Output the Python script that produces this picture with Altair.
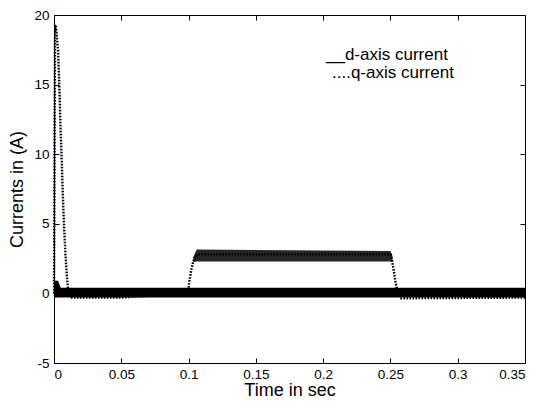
import altair as alt
import pandas as pd

# q-axis current trace (dotted)
q_time = [0, 0.0008, 0.0015, 0.003, 0.004, 0.005, 0.0058, 0.0066, 0.0075, 0.0085,
          0.0095, 0.0105, 0.012, 0.05, 0.0995, 0.1005, 0.102, 0.1035, 0.105, 0.107,
          0.25, 0.251, 0.2525, 0.254, 0.2555, 0.258, 0.35]
q_current = [0, 19.3, 19.1, 17.5, 14.8, 11.5, 9.5, 7.0, 4.8, 2.8,
             1.3, 0.2, -0.3, -0.3, 0, 0.8, 1.7, 2.3, 2.7, 2.8,
             2.8, 2.5, 1.6, 0.7, 0, -0.35, -0.3]

# ripple envelope of the q-axis plateau
q_band_time = [0.1035, 0.106, 0.25, 0.2515]
q_band_low = [2.25, 2.3, 2.3, 2.25]
q_band_high = [2.6, 3.15, 3.05, 2.7]

# d-axis current ripple envelope (solid band around zero)
d_time = [0, 0.001, 0.003, 0.005, 0.35]
d_low = [-0.3, -0.3, -0.3, -0.3, -0.3]
d_high = [0.4, 0.9, 0.9, 0.4, 0.4]

x_ticks = [0, 0.05, 0.1, 0.15, 0.2, 0.25, 0.3, 0.35]
y_ticks = [-5, 0, 5, 10, 15, 20]
legend_d = ["__d-axis current"]
legend_q = ["....q-axis current"]

W, H = 471, 348
FONT = "Liberation Sans"

q_df = pd.DataFrame({"t": q_time, "i": q_current})
qb_df = pd.DataFrame({"t": q_band_time, "lo": q_band_low, "hi": q_band_high})
d_df = pd.DataFrame({"t": d_time, "lo": d_low, "hi": d_high})

xs = alt.Scale(domain=[0, 0.35], nice=False, zero=False)
ys = alt.Scale(domain=[-5, 20], nice=False, zero=False)

main_x = alt.Axis(orient="bottom", values=x_ticks, ticks=False, grid=False,
                  labelExpr="'' + datum.value", labelFontSize=13.5, labelPadding=4,
                  title="Time in sec", titleFontSize=18, titlePadding=1,
                  titleFontWeight="normal", domainColor="black")
main_y = alt.Axis(orient="left", values=y_ticks, ticks=False, grid=False,
                  labelExpr="'' + datum.value", labelFontSize=13.5, labelPadding=5,
                  title="Currents in (A)", titleFontSize=18, titlePadding=7,
                  titleFontWeight="normal", domainColor="black")

d_band = alt.Chart(d_df).mark_area(color="black").encode(
    x=alt.X("t:Q", scale=xs, axis=main_x),
    y=alt.Y("lo:Q", scale=ys, axis=main_y),
    y2="hi:Q",
)

q_band = alt.Chart(qb_df).mark_area(color="black", opacity=0.85).encode(
    x=alt.X("t:Q", scale=xs, axis=None),
    y=alt.Y("lo:Q", scale=ys, axis=None),
    y2="hi:Q",
)

q_line = alt.Chart(q_df).mark_line(color="black", strokeWidth=2.4,
                                   strokeDash=[1.6, 1.4]).encode(
    x=alt.X("t:Q", scale=xs, axis=None),
    y=alt.Y("i:Q", scale=ys, axis=None),
)

# inward tick marks on all four sides
def tick_layer(x_orient, y_orient):
    return alt.Chart(q_df).mark_line(opacity=0).encode(
        x=alt.X("t:Q", scale=xs, axis=alt.Axis(
            orient=x_orient, offset=-H, values=x_ticks, labels=False, domain=False,
            grid=False, tickSize=5, tickColor="black", title=None)),
        y=alt.Y("i:Q", scale=ys, axis=alt.Axis(
            orient=y_orient, offset=-W, values=y_ticks, labels=False, domain=False,
            grid=False, tickSize=5, tickColor="black", title=None)),
    )

ticks_a = tick_layer("top", "right")
ticks_b = tick_layer("bottom", "left")

text_d = alt.Chart(pd.DataFrame({"label": legend_d})).mark_text(
    align="left", baseline="middle", fontSize=17, font=FONT, color="black"
).encode(x=alt.value(272), y=alt.value(40), text="label:N")

text_q = alt.Chart(pd.DataFrame({"label": legend_q})).mark_text(
    align="left", baseline="middle", fontSize=17, font=FONT, color="black"
).encode(x=alt.value(278), y=alt.value(58), text="label:N")

chart = alt.layer(
    d_band, q_band, q_line, ticks_a, ticks_b, text_d, text_q
).resolve_axis(
    x="independent", y="independent"
).properties(
    width=W,
    height=H,
    autosize="none",
    padding={"left": 46, "top": 7, "right": 9, "bottom": 39},
).configure_view(
    stroke="black", strokeWidth=1
).configure_axis(
    labelFont=FONT, titleFont=FONT, labelColor="black", titleColor="black"
)

chart.save("out.html", embed_options={"renderer": "svg", "actions": False})
